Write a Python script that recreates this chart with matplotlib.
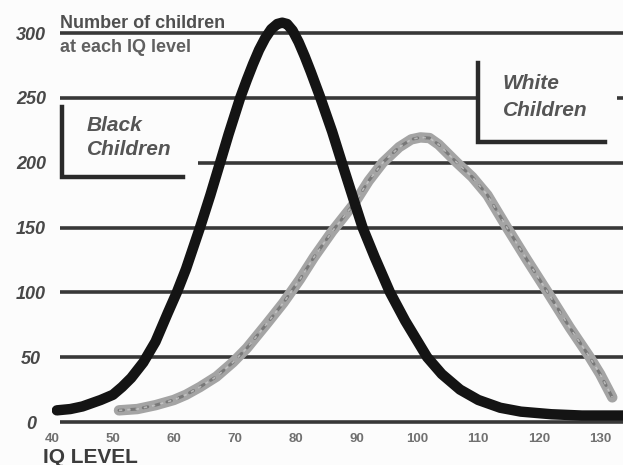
import matplotlib
matplotlib.use("Agg")
import matplotlib.pyplot as plt

# ---- data ----
iq_black = [40.8, 43, 45, 48, 50, 51.5, 53, 55, 57, 59, 60.5, 62, 64.3, 66, 67.6,
            69, 70.9, 72, 73, 74, 75, 76, 77, 77.8, 78.6, 79.5, 80.5, 81.5, 82.5,
            84, 86, 87.6, 89.7, 91, 93, 95.5, 98, 101.6, 104, 107, 110, 113.6,
            117, 122, 127, 133.8]
black_children = [9, 10, 12, 17, 21, 27, 34, 46, 62, 84, 100, 118, 150, 175, 200,
                  222, 250, 264, 276, 287, 296, 303, 307, 308, 307, 302, 293, 282,
                  270, 251, 224, 200, 169, 150, 127, 100, 78, 50, 37, 25, 17, 11,
                  8, 6, 5, 5]

iq_white = [51, 54, 57, 60, 62, 64.3, 67, 69.7, 72, 75.3, 78, 80.7, 83, 86, 89.7,
            92, 94.3, 97, 99, 100.5, 102, 103.5, 106.5, 109, 111.5, 114.7, 118,
            121.4, 125, 128.3, 130, 132]
white_children = [9, 10, 13, 17, 21, 27, 35, 46, 57, 76, 92, 110, 127, 147, 169,
                  186, 200, 212, 218, 219.5, 219, 214, 200, 189, 175, 150, 125,
                  100, 73, 50, 37, 19]

x_ticks = [40, 50, 60, 70, 80, 90, 100, 110, 120, 130]
y_ticks = [0, 50, 100, 150, 200, 250, 300]

W, H = 623, 465
fig = plt.figure(figsize=(W / 100, H / 100), dpi=100)
fig.patch.set_facecolor("#fcfcfc")

left = 52 / W
bottom = (H - 428.5) / H
top = (H - 13.6) / H
ax = fig.add_axes([left, bottom, 1 - left, top - bottom])
ax.set_facecolor("#fcfcfc")
ax.set_xlim(40, 133.76)
ax.set_ylim(-5, 315)
for s in ax.spines.values():
    s.set_visible(False)

grid_c = "#383838"
grid_lw = 2.6
x_end = 133.76
# horizontal rules (some interrupted by the label boxes)
ax.hlines([0, 50, 100, 150, 300], 41.3, x_end, colors=grid_c, lw=grid_lw, zorder=1)
ax.hlines(250, 41.3, 110, colors=grid_c, lw=grid_lw, zorder=1)
ax.hlines(250, 132.8, x_end, colors=grid_c, lw=grid_lw, zorder=1)
ax.hlines(200, 64.0, x_end, colors=grid_c, lw=grid_lw, zorder=1)

# box brackets
box_c = "#2a2a2a"
ax.plot([41.6, 41.6, 61.5], [243, 189, 189], color=box_c, lw=3.2,
        solid_joinstyle="miter", zorder=2)
ax.plot([110, 110, 130.8], [277, 216, 216], color=box_c, lw=3.2,
        solid_joinstyle="miter", zorder=2)

# curves
ax.plot(iq_white, white_children, color="#a4a4a4", lw=7.5,
        solid_capstyle="round", solid_joinstyle="round", zorder=3)
ax.plot(iq_white, white_children, color="#6e6e6e", lw=2.2,
        dashes=(1.5, 2.5), dash_capstyle="round", zorder=4, alpha=0.8)
ax.plot(iq_white, white_children, color="#c8c8c8", lw=1.2,
        dashes=(2, 3), zorder=4, alpha=0.8)
ax.plot(iq_black, black_children, color="#141414", lw=7.5,
        solid_capstyle="round", solid_joinstyle="round", zorder=5)

# ticks
txt_c = "#484848"
ax.set_xticks(x_ticks)
ax.set_xticklabels([str(v) for v in x_ticks], fontsize=9.5, fontweight="bold",
                   color="#707070", family="Liberation Sans")
ax.set_yticks(y_ticks)
ax.set_yticklabels([str(v) for v in y_ticks], fontsize=13, fontweight="bold",
                   fontstyle="italic", color=txt_c, family="Liberation Sans",
                   ha="center")
ax.tick_params(axis="x", length=0, pad=3)
ax.tick_params(axis="y", length=0, pad=15)

# annotations
ax.text(41.3, 307, "Number of children", fontsize=13, fontweight="bold",
        color="#505050", family="Liberation Sans", va="center", ha="left")
ax.text(41.3, 289, "at each IQ level", fontsize=13, fontweight="bold",
        color="#606060", family="Liberation Sans", va="center", ha="left")
ax.text(45.7, 229, "Black", fontsize=15, fontweight="bold", fontstyle="italic",
        color="#555555", family="Liberation Sans", va="center", ha="left")
ax.text(45.7, 210, "Children", fontsize=15, fontweight="bold", fontstyle="italic",
        color="#555555", family="Liberation Sans", va="center", ha="left")
ax.text(114.0, 261, "White", fontsize=15, fontweight="bold", fontstyle="italic",
        color="#555555", family="Liberation Sans", va="center", ha="left")
ax.text(114.0, 240, "Children", fontsize=15, fontweight="bold", fontstyle="italic",
        color="#555555", family="Liberation Sans", va="center", ha="left")

fig.text(43 / W, (H - 457) / H, "IQ LEVEL", fontsize=15, fontweight="bold",
         color="#3c3c3c", family="Liberation Sans", va="center", ha="left")

fig.savefig("out.png", dpi=100, facecolor=fig.get_facecolor())
